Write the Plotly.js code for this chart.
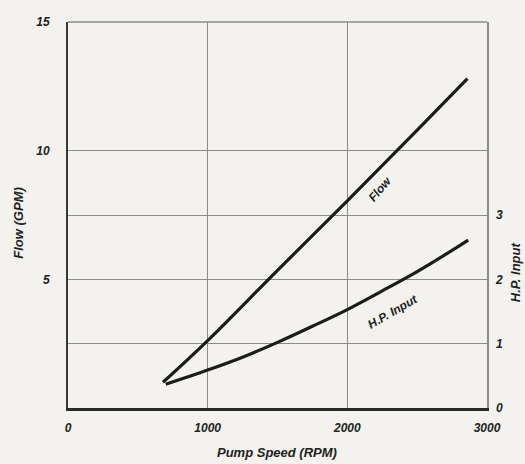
<!DOCTYPE html>
<html>
<head>
<meta charset="utf-8">
<script src="https://cdn.plot.ly/plotly-3.0.1.min.js"></script>
<style>html,body{margin:0;padding:0;background:#f4f2ef;}#chart{width:525px;height:464px;}</style>
</head>
<body>
<div id="chart"></div>
<script>
// Data
const flowRpm = [680, 1000, 1500, 2000, 2500, 2860];
const flowGpm = [1.0, 2.62, 5.35, 8.05, 10.8, 12.8];
const hpRpm = [700, 1000, 1250, 1500, 1750, 2000, 2250, 2500, 2750, 2865];
const hpInput = [0.37, 0.59, 0.79, 1.02, 1.27, 1.53, 1.82, 2.12, 2.45, 2.61];

const xTicks = [0, 1000, 2000, 3000];
const xTickText = ['0', '1000', '2000', '3000'];
const flowTicks = [5, 10, 15];
const flowTickText = ['5', '10', '15'];
const hpTicks = [0, 1, 2, 3, 4];
const hpTickText = ['0', '1', '2', '3', ''];

const FONT = 'Liberation Sans, Arial, sans-serif';
const ink = '#1c1c1c';

const traces = [
  {x: flowRpm, y: flowGpm, type: 'scatter', mode: 'lines', name: 'Flow',
   line: {color: ink, width: 3.2, shape: 'spline'}, xaxis: 'x', yaxis: 'y', hoverinfo: 'skip'},
  {x: hpRpm, y: hpInput, type: 'scatter', mode: 'lines', name: 'H.P. Input',
   line: {color: ink, width: 3.2, shape: 'spline'}, xaxis: 'x', yaxis: 'y2', hoverinfo: 'skip'}
];

const tickFont = {family: FONT, size: 12, color: '#222', weight: 'bold', style: 'italic'};
const titleFont = {family: FONT, size: 13, color: '#222', weight: 'bold', style: 'italic'};
const labelFont = {family: FONT, size: 12, color: '#222', weight: 'bold', style: 'italic'};

const layout = {
  width: 525, height: 464,
  margin: {l: 68, r: 38, t: 22, b: 56, pad: 0},
  paper_bgcolor: '#f4f2ef',
  plot_bgcolor: '#f4f2ef',
  showlegend: false,
  xaxis: {
    range: [0, 3000], tickvals: xTicks, ticktext: xTickText,
    showgrid: true, gridcolor: '#8c8c8c', gridwidth: 1,
    showline: true, linecolor: '#2a2a2a', linewidth: 2.5,
    zeroline: false, ticks: '', ticklabelstandoff: 7,
    tickfont: tickFont
  },
  yaxis: {
    range: [0, 15], tickvals: flowTicks, ticktext: flowTickText,
    showgrid: false, zeroline: false,
    showline: true, linecolor: '#3a3a3a', linewidth: 2,
    ticks: '', ticklabelstandoff: 14, tickfont: tickFont
  },
  yaxis2: {
    range: [0, 6], overlaying: 'y', side: 'right',
    tickvals: hpTicks, ticktext: hpTickText,
    showgrid: true, gridcolor: '#8c8c8c', gridwidth: 1,
    zeroline: false, showline: true, linecolor: '#8c8c8c', linewidth: 1.5,
    ticks: '', ticklabelstandoff: 5, tickfont: tickFont
  },
  shapes: [
    {type: 'line', xref: 'paper', yref: 'paper', x0: 0, x1: 1, y0: 1, y1: 1,
     line: {color: '#8c8c8c', width: 1.5}}
  ],
  annotations: [
    {text: 'Flow', x: 2235, y: 8.5, xref: 'x', yref: 'y', showarrow: false,
     xanchor: 'center', yanchor: 'middle', textangle: -50, font: labelFont},
    {text: 'H.P. Input', x: 2320, y: 3.75, xref: 'x', yref: 'y', showarrow: false,
     xanchor: 'center', yanchor: 'middle', textangle: -30, font: labelFont},
    {text: 'Flow (GPM)', x: -0.117, y: 0.48, xref: 'paper', yref: 'paper', showarrow: false,
     xanchor: 'center', yanchor: 'middle', textangle: -90, font: titleFont},
    {text: 'H.P. Input', x: 1.067, y: 0.352, xref: 'paper', yref: 'paper', showarrow: false,
     xanchor: 'center', yanchor: 'middle', textangle: -90, font: titleFont},
    {text: 'Pump Speed (RPM)', x: 0.499, y: -0.114, xref: 'paper', yref: 'paper', showarrow: false,
     xanchor: 'center', yanchor: 'middle', font: titleFont}
  ]
};

Plotly.newPlot('chart', traces, layout, {staticPlot: true, displayModeBar: false});
</script>
</body>
</html>
